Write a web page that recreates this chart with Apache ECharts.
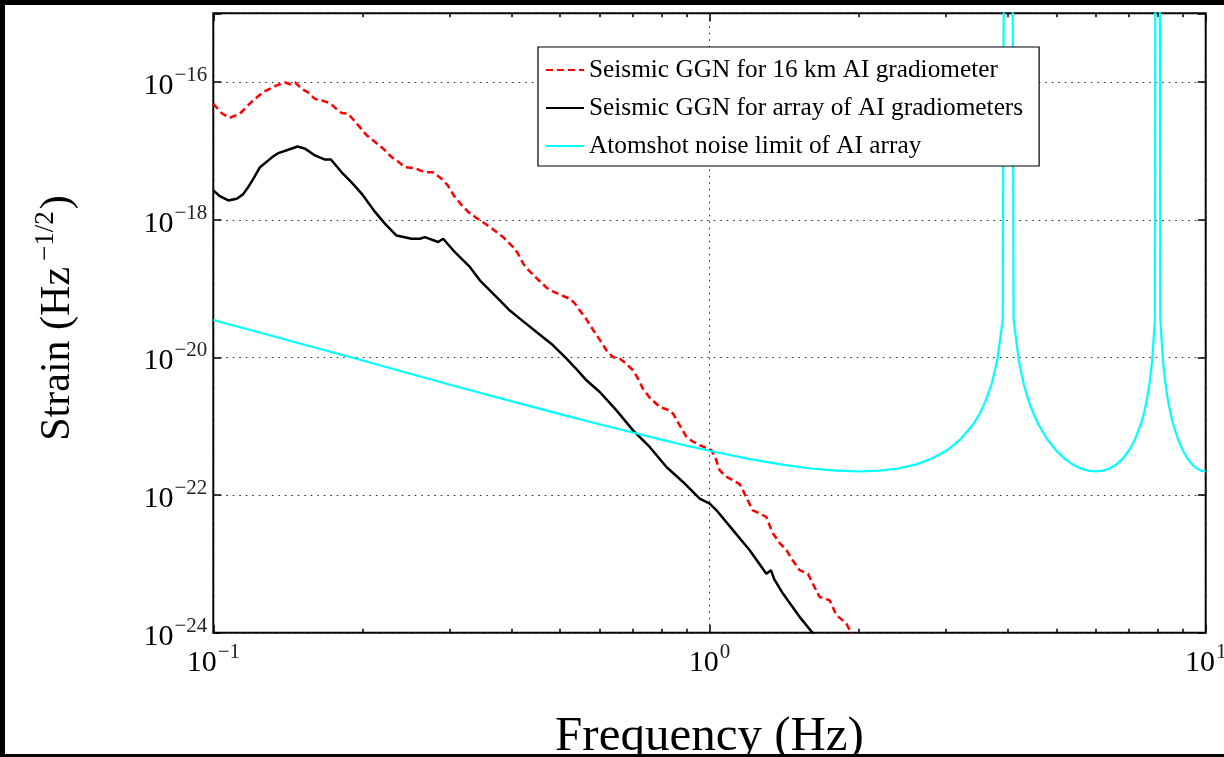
<!DOCTYPE html>
<html>
<head>
<meta charset="utf-8">
<script src="https://cdn.jsdelivr.net/npm/echarts@6/dist/echarts.min.js"></script>
<style>
html,body{margin:0;padding:0;background:#000;width:1224px;height:757px;overflow:hidden;}
#frame{position:absolute;left:5px;top:5px;width:1219px;height:749px;background:#fff;}
#chart{width:1219px;height:749px;}
</style>
</head>
<body>
<div id="frame"><div id="chart"></div></div>
<script>
// ---------------- data ----------------
const seriesNames = [
  'Seismic GGN for 16 km AI gradiometer',
  'Seismic GGN for array of AI gradiometers',
  'Atomshot noise limit of AI array'
];

// Seismic GGN, 16 km gradiometer (red dashed)
const freq16km = [0.1000,0.1041,0.1080,0.1132,0.1202,0.1261,0.1342,0.1394,0.1427,0.1461,0.1507,0.1551,0.1603,0.1656,0.1718,0.1766,0.1814,0.1867,0.1960,0.2039,0.2118,0.2197,0.2288,0.2355,0.2432,0.2549,0.2669,0.2770,0.2884,0.2969,0.3068,0.3169,0.3264,0.3381,0.3526,0.3659,0.3837,0.4020,0.4109,0.4212,0.4324,0.4446,0.4694,0.4833,0.4991,0.5231,0.5352,0.5480,0.5632,0.5828,0.6010,0.6198,0.6390,0.6593,0.6781,0.7013,0.7168,0.7345,0.7577,0.7940,0.8200,0.8445,0.8710,0.8985,0.9252,0.9556,1.009,1.029,1.048,1.078,1.115,1.150,1.168,1.194,1.223,1.262,1.302,1.322,1.343,1.385,1.429,1.471,1.519,1.579,1.621,1.667,1.746,1.802,1.887,1.931,1.960];
const ggn16km = [4.85e-17,3.5e-17,3.04e-17,3.5e-17,5.4e-17,7.2e-17,8.95e-17,9.9e-17,9.3e-17,9.9e-17,8.0e-17,7.1e-17,5.7e-17,5.4e-17,4.95e-17,4.15e-17,3.55e-17,3.5e-17,2.35e-17,1.68e-17,1.35e-17,1.09e-17,8.1e-18,7.05e-18,5.8e-18,5.6e-18,4.9e-18,4.9e-18,3.95e-18,3.15e-18,2.14e-18,1.62e-18,1.3e-18,1.08e-18,8.8e-19,7.3e-19,5.6e-19,4.0e-19,3.25e-19,2.3e-19,1.84e-19,1.5e-19,1.03e-19,9.1e-20,8.2e-20,7.1e-20,6.1e-20,4.8e-20,3.7e-20,2.5e-20,1.8e-20,1.27e-20,1.01e-20,9.6e-21,8.2e-21,6.5e-21,5.0e-21,3.5e-21,2.6e-21,1.9e-21,1.76e-21,1.53e-21,1.03e-21,7.0e-22,6.0e-22,5.3e-22,4.5e-22,3.4e-22,2.3e-22,1.87e-22,1.64e-22,1.44e-22,1.17e-22,8.4e-23,6.0e-23,5.4e-23,4.8e-23,3.6e-23,2.76e-23,2.0e-23,1.58e-23,1.13e-23,8.1e-24,7.2e-24,4.9e-24,3.3e-24,2.96e-24,1.8e-24,1.36e-24,9.8e-25,8.0e-25];

// Seismic GGN, array of gradiometers (black)
const freqArray = [0.1000,0.1031,0.1072,0.1115,0.1148,0.1176,0.1208,0.1242,0.1291,0.1319,0.1352,0.1416,0.1479,0.1530,0.1603,0.1679,0.1726,0.1814,0.1900,0.1990,0.2118,0.2217,0.2341,0.2509,0.2609,0.2669,0.2839,0.2906,0.3044,0.3189,0.3289,0.3445,0.3609,0.3780,0.3959,0.4147,0.4480,0.4839,0.5150,0.5375,0.5649,0.6010,0.6494,0.7013,0.7577,0.8190,0.8843,0.9556,1.001,1.033,1.115,1.205,1.302,1.330,1.350,1.406,1.519,1.616,1.650];
const ggnArray = [2.67e-18,2.2e-18,1.91e-18,2.02e-18,2.34e-18,2.99e-18,4.1e-18,5.8e-18,7.3e-18,8.3e-18,9.3e-18,1.04e-17,1.16e-17,1.08e-17,8.6e-18,7.5e-18,7.5e-18,4.9e-18,3.5e-18,2.4e-18,1.3e-18,8.8e-19,5.9e-19,5.3e-19,5.3e-19,5.6e-19,4.75e-19,5.3e-19,3.6e-19,2.57e-19,2.06e-19,1.32e-19,9.4e-20,6.75e-20,4.8e-20,3.66e-20,2.34e-20,1.5e-20,9.6e-21,6.95e-21,4.65e-21,3.14e-21,1.7e-21,8.7e-22,5.0e-22,2.56e-22,1.55e-22,8.9e-23,7.5e-23,6.0e-23,3.09e-23,1.58e-23,7.2e-24,8.1e-24,6.0e-24,3.7e-24,1.7e-24,9.8e-25,8.0e-25];

// Atom shot-noise limit of AI array (cyan); 4 Hz and 8 Hz samples run far off the top
const freqShot = [0.1,0.2,0.3,0.4,0.5,0.6,0.7,0.8,0.9,1.0,1.2,1.4,1.6,1.8,2.0,2.2,2.4,2.6,2.8,3.0,3.2,3.4,3.5,3.6,3.7,3.8,3.9,4.0,4.1,4.2,4.3,4.4,4.5,4.6,4.8,5.0,5.2,5.4,5.6,5.8,6.0,6.2,6.4,6.6,6.8,7.0,7.2,7.4,7.5,7.6,7.7,7.8,7.9,8.0,8.1,8.2,8.3,8.4,8.5,8.6,8.8,9.0,9.2,9.4,9.6,9.8,10.0];
const shotNoise = [3.5e-20,9.0e-21,4.0e-21,2.3e-21,1.5e-21,1.07e-21,8.1e-22,6.4e-22,5.2e-22,4.4e-22,3.36e-22,2.77e-22,2.43e-22,2.26e-22,2.2e-22,2.26e-22,2.43e-22,2.77e-22,3.36e-22,4.4e-22,6.37e-22,1.07e-21,1.5e-21,2.3e-21,4.04e-21,8.99e-21,3.57e-20,1e10,3.57e-20,8.99e-21,4.04e-21,2.3e-21,1.5e-21,1.07e-21,6.37e-22,4.4e-22,3.36e-22,2.77e-22,2.43e-22,2.26e-22,2.2e-22,2.26e-22,2.43e-22,2.77e-22,3.36e-22,4.4e-22,6.37e-22,1.07e-21,1.5e-21,2.3e-21,4.04e-21,8.99e-21,3.57e-20,1e10,3.57e-20,8.99e-21,4.04e-21,2.3e-21,1.5e-21,1.07e-21,6.37e-22,4.4e-22,3.36e-22,2.77e-22,2.43e-22,2.26e-22,2.2e-22];

// axes (decade exponents)
const xDecadeMin = -1, xDecadeMax = 1;
const yDecadeMin = -24, yDecadeMax = -15;
const yLabelExponents = [-24, -22, -20, -18, -16];
const xMinorTickFreqs = [0.2,0.3,0.4,0.5,0.6,0.7,0.8,0.9,2,3,4,5,6,7,8,9];
const xTitle = 'Frequency (Hz)';
const yTitleMain = 'Strain (Hz', yTitleSup = '−1/2', yTitleEnd = ')';

// ---------------- chart ----------------
const SERIF = "'Liberation Serif','Times New Roman',serif";
const toLog = (fs, vs) => fs.map((f, i) => [Math.log10(f), Math.log10(vs[i])]);
const expText = e => (e < 0 ? '−' : '') + Math.abs(e);
const tickRich = {
  b: {fontFamily: SERIF, fontSize: 30, lineHeight: 30, color: '#000', verticalAlign: 'bottom'},
  s: {fontFamily: SERIF, fontSize: 21, lineHeight: 21, color: '#222', verticalAlign: 'bottom', padding: [0, 0, 15, 1]}
};
const minorX = xMinorTickFreqs.map(f => Math.log10(f));
const dotted = {color: '#222', width: 1, type: [1.5, 5]};
const tickStyle = {color: '#000', width: 1.5};

function xAxisCfg(pos, minor) {
  return {
    type: 'value', position: pos, min: xDecadeMin, max: xDecadeMax, interval: 1,
    axisLine: {show: false, onZero: false},
    axisTick: minor ? {show: true, inside: true, length: 4, lineStyle: tickStyle, customValues: minorX}
                    : {show: true, inside: true, length: 8, lineStyle: tickStyle},
    axisLabel: {show: false},
    splitLine: {show: false}
  };
}

const chart = echarts.init(document.getElementById('chart'), null, {renderer: 'canvas'});
const mainX = xAxisCfg('bottom', false);
mainX.axisLabel = {
  show: true, margin: 15, rich: tickRich,
  formatter: v => '{b|10}{s|' + expText(Math.round(v)) + '}'
};
mainX.splitLine = {show: true, lineStyle: dotted};
mainX.name = xTitle;
mainX.nameLocation = 'middle';
mainX.nameGap = 80;
mainX.nameTextStyle = {fontFamily: SERIF, fontSize: 49, color: '#000'};

const option = {
  animation: false,
  backgroundColor: '#fff',
  textStyle: {fontFamily: SERIF},
  grid: {left: 208.3, right: 18.3, top: 8.3, bottom: 121.3, show: true, outerBoundsMode: 'none',
         containLabel: false, borderColor: '#000', borderWidth: 2, backgroundColor: 'transparent'},
  legend: {
    data: seriesNames, orient: 'vertical', left: 533, top: 42,
    padding: [8, 16, 5, 7], itemWidth: 38, itemHeight: 2, itemGap: 8,
    itemStyle: {opacity: 0, borderWidth: 0},
    backgroundColor: '#fff', borderColor: '#000', borderWidth: 1.2, borderRadius: 0,
    textStyle: {fontFamily: SERIF, fontSize: 25.3, lineHeight: 30, color: '#000'}
  },
  xAxis: [mainX, xAxisCfg('bottom', true), xAxisCfg('top', false), xAxisCfg('top', true)],
  yAxis: [
    {
      type: 'value', position: 'left', min: yDecadeMin, max: yDecadeMax, interval: 2,
      axisLine: {show: false, onZero: false},
      axisTick: {show: true, inside: true, length: 8, lineStyle: tickStyle},
      axisLabel: {
        show: true, margin: 6, rich: tickRich, padding: [8, 0, 0, 0],
        formatter: v => yLabelExponents.indexOf(Math.round(v)) >= 0 ? '{b|10}{s|' + expText(Math.round(v)) + '}' : ''
      },
      splitLine: {show: true, lineStyle: dotted},
      name: '{n|' + yTitleMain + '}{s|' + yTitleSup + '}{n|' + yTitleEnd + '}',
      nameLocation: 'middle', nameGap: 134, nameRotate: 90,
      nameTextStyle: {
        padding: [0, 0, 0, 10],
        rich: {
          n: {fontFamily: SERIF, fontSize: 42, lineHeight: 42, color: '#000', verticalAlign: 'bottom'},
          s: {fontFamily: SERIF, fontSize: 27, lineHeight: 27, color: '#000', verticalAlign: 'bottom', padding: [0, 2, 20, 6]}
        }
      }
    },
    {
      type: 'value', position: 'right', min: yDecadeMin, max: yDecadeMax, interval: 2,
      axisLine: {show: false, onZero: false},
      axisTick: {show: true, inside: true, length: 8, lineStyle: tickStyle},
      axisLabel: {show: false}, splitLine: {show: false}
    }
  ],
  series: [
    {name: seriesNames[0], type: 'line', data: toLog(freq16km, ggn16km), xAxisIndex: 0, yAxisIndex: 0,
     symbol: 'none', showSymbol: false, clip: true, z: 3,
     lineStyle: {color: '#ff0000', width: 2.5, type: [7, 4]}, itemStyle: {color: '#ff0000'}},
    {name: seriesNames[1], type: 'line', data: toLog(freqArray, ggnArray), xAxisIndex: 0, yAxisIndex: 0,
     symbol: 'none', showSymbol: false, clip: true, z: 3,
     lineStyle: {color: '#000000', width: 2.5}, itemStyle: {color: '#000000'}},
    {name: seriesNames[2], type: 'line', data: toLog(freqShot, shotNoise), xAxisIndex: 0, yAxisIndex: 0,
     symbol: 'none', showSymbol: false, clip: true, z: 3,
     lineStyle: {color: '#00ffff', width: 2.2}, itemStyle: {color: '#00ffff'}}
  ]
};
chart.setOption(option);
</script>
</body>
</html>
